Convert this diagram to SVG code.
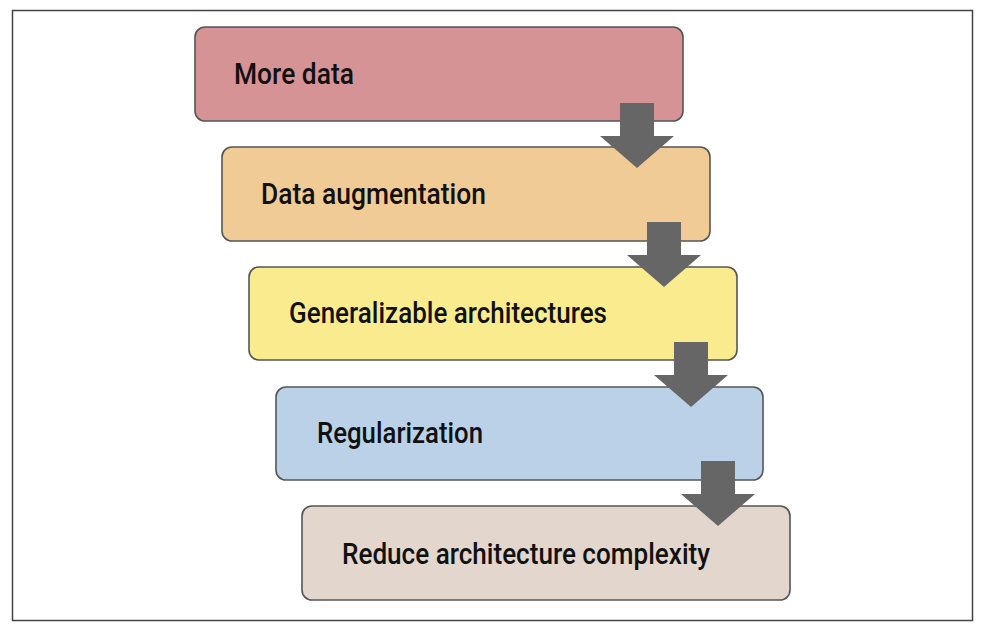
<svg xmlns="http://www.w3.org/2000/svg" width="984" height="632" viewBox="0 0 984 632">
<style>
.box{stroke:#555;stroke-width:1.6}
.lbl{font-family:Roboto,"Liberation Sans",sans-serif;font-weight:500;font-size:29px;fill:#111}
.arr{fill:#666}
</style>
<rect x="0" y="0" width="984" height="632" fill="#fff"/>
<rect x="12.5" y="10.5" width="960" height="610" fill="none" stroke="#444" stroke-width="1.5"/>
<g id="n1"><rect class="box" x="195" y="27" width="488" height="94" rx="10" fill="#D69396"/><text class="lbl" x="234" y="84" textLength="120" lengthAdjust="spacingAndGlyphs">More data</text></g>
<g id="n2"><rect class="box" x="222" y="147" width="488" height="94" rx="10" fill="#F1CB95"/><text class="lbl" x="261" y="204" textLength="225" lengthAdjust="spacingAndGlyphs">Data augmentation</text></g>
<g id="n3"><rect class="box" x="249" y="267" width="488" height="93" rx="10" fill="#FAEC8E"/><text class="lbl" x="289" y="323" textLength="318" lengthAdjust="spacingAndGlyphs">Generalizable architectures</text></g>
<g id="n4"><rect class="box" x="276" y="387" width="487" height="93" rx="10" fill="#BAD1E8"/><text class="lbl" x="317" y="443" textLength="166" lengthAdjust="spacingAndGlyphs">Regularization</text></g>
<g id="n5"><rect class="box" x="302" y="506" width="488" height="94" rx="10" fill="#E3D6CC"/><text class="lbl" x="342" y="564" textLength="368" lengthAdjust="spacingAndGlyphs">Reduce architecture complexity</text></g>
<g id="connectors">
<polygon class="arr" points="620,103 654,103 654,136 674,136 637,168 600,136 620,136"/>
<polygon class="arr" points="647,222 681,222 681,255 701,255 664,287 627,255 647,255"/>
<polygon class="arr" points="674,342 708,342 708,375 728,375 691,407 654,375 674,375"/>
<polygon class="arr" points="701,461 735,461 735,494 755,494 718,526 681,494 701,494"/>
</g>
</svg>
